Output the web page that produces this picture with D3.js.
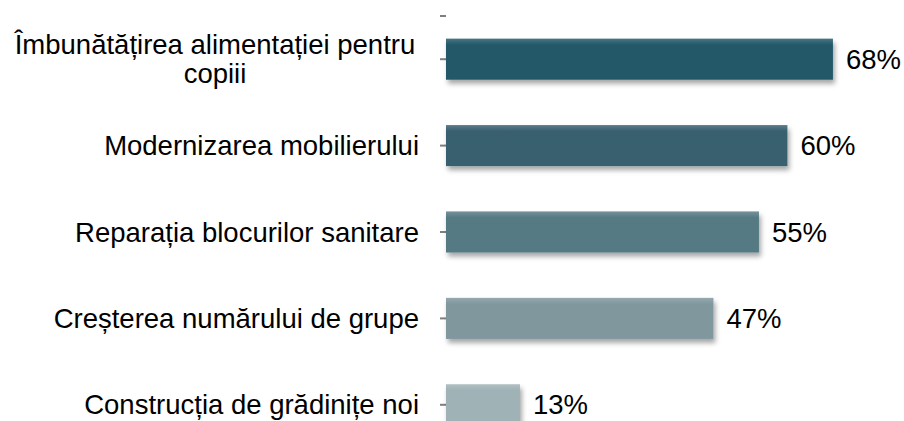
<!DOCTYPE html>
<html>
<head>
<meta charset="utf-8">
<script src="https://cdn.jsdelivr.net/npm/d3@7"></script>
<style>
    body { margin: 0; background: #fff; }
    svg text { font-family: 'Liberation Sans', Arial, sans-serif; fill: #000; }
    .tick line, .top-tick { stroke: #7f7f7f; stroke-width: 2; }
</style>
</head>
<body>
<div id="chart"></div>
<script>
var CATEGORIES = [
    ['Îmbunătățirea alimentației pentru', 'copiii'],
    ['Modernizarea mobilierului'],
    ['Reparația blocurilor sanitare'],
    ['Creșterea numărului de grupe'],
    ['Construcția de grădinițe noi']
]
var VALUES = [68, 60, 55, 47, 13]
var COLORS = ['#215968', '#37616e', '#577a84', '#7f979d', '#9fb2b6']

var WIDTH = 904
var HEIGHT = 421
var FONT = 27.5

var svg = d3.select('#chart')
    .append('svg')
    .attr('width', WIDTH)
    .attr('height', HEIGHT)

var defs = svg.append('defs')
var shadow = defs.append('filter')
    .attr('id', 'shadow')
    .attr('x', '-5%').attr('y', '-20%')
    .attr('width', '115%').attr('height', '160%')
shadow.append('feDropShadow')
    .attr('dx', 2).attr('dy', 4)
    .attr('stdDeviation', 2.5)
    .attr('flood-color', '#000')
    .attr('flood-opacity', 0.35)

// soft lighter top edge on the bars
var sheen = defs.append('linearGradient')
    .attr('id', 'sheen')
    .attr('x1', 0).attr('y1', 0).attr('x2', 0).attr('y2', 1)
sheen.append('stop').attr('offset', '0%').attr('stop-color', '#fff').attr('stop-opacity', 0.18)
sheen.append('stop').attr('offset', '15%').attr('stop-color', '#fff').attr('stop-opacity', 0)
sheen.append('stop').attr('offset', '100%').attr('stop-color', '#fff').attr('stop-opacity', 0)

var idx = d3.range(VALUES.length)

var x = d3.scaleLinear()
    .domain([0, 100])
    .range([446, 1015])

var y = d3.scaleBand()
    .domain(idx)
    .range([16, 448])
    .paddingInner(0.525)
    .paddingOuter(0.2625)

var yAxis = d3.axisLeft(y)
    .tickSize(6)
    .tickFormat('')

svg.append('g')
    .attr('transform', 'translate(' + x(0) + ',0)')
    .call(yAxis)
    .call(function (g) { g.select('.domain').remove() })

svg.append('line')
    .attr('class', 'top-tick')
    .attr('x1', x(0) - 6)
    .attr('x2', x(0))
    .attr('y1', y.range()[0])
    .attr('y2', y.range()[0])

var bars = svg.append('g')
    .selectAll('g')
    .data(idx)
    .enter().append('g')

bars.append('rect')
    .attr('x', x(0))
    .attr('y', function (i) { return y(i) })
    .attr('width', function (i) { return x(VALUES[i]) - x(0) })
    .attr('height', y.bandwidth())
    .attr('fill', function (i) { return COLORS[i] })
    .attr('filter', 'url(#shadow)')

bars.append('rect')
    .attr('x', x(0))
    .attr('y', function (i) { return y(i) })
    .attr('width', function (i) { return x(VALUES[i]) - x(0) })
    .attr('height', y.bandwidth())
    .attr('fill', 'url(#sheen)')

bars.append('text')
    .attr('x', function (i) { return x(VALUES[i]) + 13 })
    .attr('y', function (i) { return y(i) + y.bandwidth() / 2 })
    .attr('dy', '0.35em')
    .style('font-size', FONT + 'px')
    .text(function (i) { return VALUES[i] + '%' })

var LINE_H = 29

var labels = svg.append('g')
    .selectAll('text')
    .data(idx)
    .enter().append('text')
    .style('font-size', FONT + 'px')
    .attr('text-anchor', function (i) { return CATEGORIES[i].length > 1 ? 'middle' : 'end' })
    .attr('x', function (i) { return CATEGORIES[i].length > 1 ? 215 : 419 })
    .attr('y', function (i) { return y(i) + y.bandwidth() / 2 })

labels.selectAll('tspan')
    .data(function (i) {
        var lines = CATEGORIES[i]
        return lines.map(function (t, k) { return { text: t, k: k, n: lines.length } })
    })
    .enter().append('tspan')
    .attr('x', function () { return d3.select(this.parentNode).attr('x') })
    .attr('dy', function (d) {
        if (d.k === 0) return (0.35 * FONT - (d.n - 1) * LINE_H / 2) + 'px'
        return LINE_H + 'px'
    })
    .text(function (d) { return d.text })
</script>
</body>
</html>
